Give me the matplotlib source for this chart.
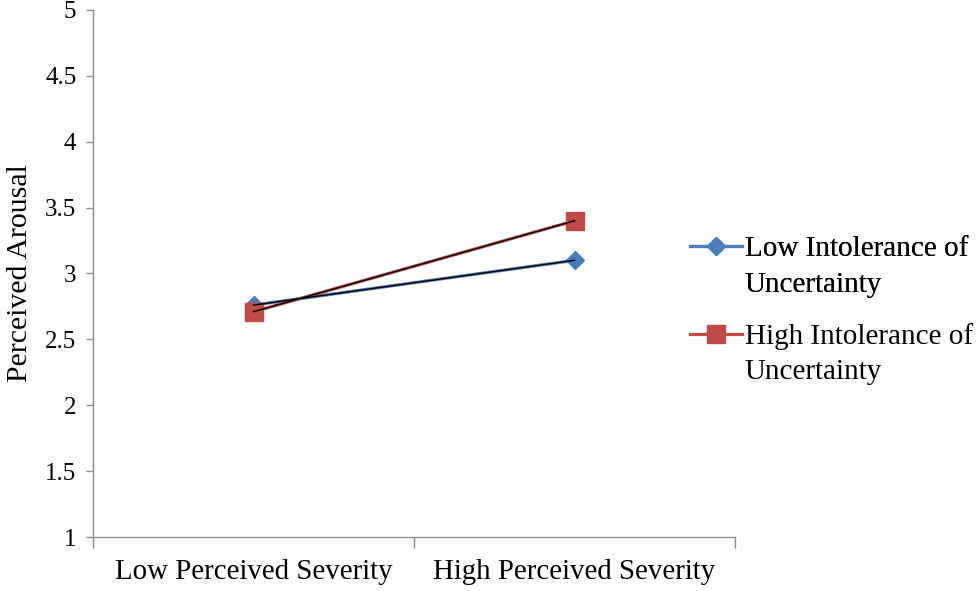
import matplotlib
matplotlib.use("Agg")
import matplotlib.pyplot as plt
from matplotlib.lines import Line2D

categories = ["Low Perceived Severity", "High Perceived Severity"]
low_iu = [2.76, 3.10]
high_iu = [2.71, 3.40]
series_names = [("Low Intolerance of", "Uncertainty"), ("High Intolerance of", "Uncertainty")]
yticks = [1, 1.5, 2, 2.5, 3, 3.5, 4, 4.5, 5]
ytick_labels = ["1", "1.5", "2", "2.5", "3", "3.5", "4", "4.5", "5"]

plt.rcParams['font.family'] = ['Liberation Serif', 'DejaVu Serif']
FS_X = 20.8
FS_Y = 18
FS_LAB = 21.5
FS_LEG = 21

blue = "#4A7EBB"
red = "#BE4B48"

fig = plt.figure(figsize=(9.8, 5.91), dpi=100)
ax = fig.add_axes([93/980, (591-537)/591, (735-93)/980, (537-10)/591])

x = list(range(len(categories)))
ax.plot(x, low_iu, color=blue, lw=2.3, marker='D', ms=9.6, mec=blue, mfc=blue, zorder=3)
ax.plot(x, high_iu, color=red, lw=2.3, marker='s', ms=13.5, mec=red, mfc=red, zorder=4)
ax.plot(x, low_iu, color='black', lw=1.0, zorder=5)
ax.plot(x, high_iu, color='black', lw=1.0, zorder=5)

ax.set_xlim(-0.5, len(categories) - 0.5)
ax.set_ylim(1, 5)
ax.set_yticks(yticks)
ax.set_yticklabels(ytick_labels, fontsize=FS_Y)
ax.set_xticks(x)
ax.set_xticklabels(categories, fontsize=FS_X)
ax.set_xticks([-0.5, 0.5, 1.5], minor=True)
ax.tick_params(axis='x', which='major', length=0, pad=16)
ax.tick_params(axis='x', which='minor', length=8, width=1, color='#8C8C8C', direction='out')
ax.tick_params(axis='y', which='major', length=5, width=1, color='#8C8C8C', direction='out', pad=7)
for s in ['top', 'right']:
    ax.spines[s].set_visible(False)
for s in ['left', 'bottom']:
    ax.spines[s].set_color('#8C8C8C')
    ax.spines[s].set_linewidth(1)
ax.set_ylabel("Perceived Arousal", fontsize=FS_LAB, labelpad=9)

h1 = Line2D([], [], color=blue, lw=2.3, marker='D', ms=9.6, mec=blue, mfc=blue)
h2 = Line2D([], [], color=red, lw=2.3, marker='s', ms=13.5, mec=red, mfc=red)
blank = Line2D([], [], color='none')

common = dict(loc='upper left', frameon=False, fontsize=FS_LEG, handlelength=1.78,
              handletextpad=0.1, labelspacing=0.3, borderpad=0, borderaxespad=0)
leg1 = fig.legend([h1, blank], list(series_names[0]),
                  bbox_to_anchor=(690/980, 1 - 236/591), **common)
leg2 = fig.legend([h2, blank], list(series_names[1]),
                  bbox_to_anchor=(690/980, 1 - 323/591), **common)
fig.add_artist(leg1)

fig.savefig("out.png", dpi=100)
